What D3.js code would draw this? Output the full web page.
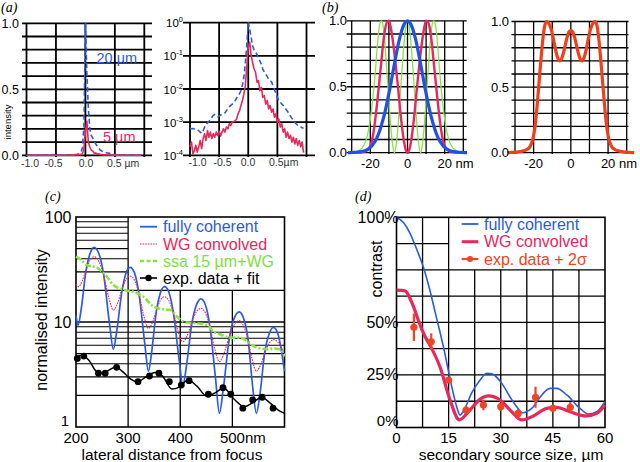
<!DOCTYPE html>
<html>
<head>
<meta charset="utf-8">
<script src="https://cdn.jsdelivr.net/npm/d3@7"></script>
<style>
  body { margin: 0; background: #fff; }
  svg { display: block; font-family: "Liberation Sans", Arial, sans-serif; }
</style>
</head>
<body>
<div id="chart"></div>
<script>
// ---- panel (a): 20 um and 5 um source, same profiles on linear and log axes
const aX = d3.range(79).map(i => -1 + i * 0.025);
const a20 = [6.5e-4, 6.3e-4, 6.4e-4, 6.2e-4, 6.0e-4, 6.0e-4, 5.5e-4, 5.0e-4, 4.6e-4, 5.5e-4,
  7.0e-4, 8.5e-4, 9.5e-4, 1.05e-3, 1.2e-3, 1.4e-3, 1.6e-3, 1.7e-3, 1.6e-3, 1.45e-3,
  1.5e-3, 1.65e-3, 1.7e-3, 1.75e-3, 1.9e-3, 2.2e-3, 2.5e-3, 2.9e-3, 3.2e-3, 3.5e-3,
  3.9e-3, 4.4e-3, 5.3e-3, 6.2e-3, 7.2e-3, 9.0e-3, 0.013, 0.023, 0.06, 0.22,
  1.0, 0.62, 0.36, 0.2, 0.15, 0.13, 0.11, 0.085, 0.07, 0.055,
  0.04, 0.033, 0.028, 0.024, 0.02, 0.018, 0.0165, 0.0125, 0.0095, 0.0075,
  0.0055, 0.0045, 0.004, 0.0035, 0.0032, 0.0028, 0.0024, 0.0021, 0.0018, 0.0015,
  0.0013, 0.0011, 9.8e-4, 8.8e-4, 8.0e-4, 7.5e-4, 7.2e-4, 6.8e-4, 6.6e-4];
const a5 = [1.8e-4, 2.5e-4, 1.1e-4, 1.4e-4, 2.0e-4, 1.25e-4, 1.8e-4, 2.8e-4, 1.6e-4, 3.2e-4,
  4.5e-4, 2.8e-4, 5.6e-4, 3.5e-4, 5.0e-4, 3.2e-4, 4.5e-4, 3.5e-4, 5.0e-4, 4.0e-4,
  5.2e-4, 3.8e-4, 5.0e-4, 6.3e-4, 5.0e-4, 7.1e-4, 6.3e-4, 8.9e-4, 7.9e-4, 1.0e-3,
  1.05e-3, 1.1e-3, 1.25e-3, 1.8e-3, 2.2e-3, 3.2e-3, 4.5e-3, 7.0e-3, 0.0126, 0.05,
  0.18, 0.26, 0.10, 0.063, 0.04, 0.032, 0.016, 0.018, 8.9e-3, 0.0112,
  5.6e-3, 6.3e-3, 3.5e-3, 4.5e-3, 2.5e-3, 3.2e-3, 2.0e-3, 2.5e-3, 1.4e-3, 1.8e-3,
  1.0e-3, 1.25e-3, 7.1e-4, 8.9e-4, 5.0e-4, 6.3e-4, 3.5e-4, 5.0e-4, 3.2e-4, 4.0e-4,
  2.5e-4, 3.5e-4, 2.2e-4, 3.2e-4, 2.0e-4, 2.8e-4, 1.8e-4, 2.5e-4, 1.2e-4];
const aTicks = [-1, -0.5, 0, 0.5, 1];
const aLogTicks = [0, -1, -2, -3, -4];

// ---- panel (b): mode profiles (nm)
const bX = d3.range(-32, 33);
const bBlue = [0.001, 0.001, 0.0015, 0.002, 0.003, 0.004, 0.006, 0.008, 0.011, 0.015, 0.021, 0.029, 0.04, 0.055, 0.074, 0.098,
  0.128, 0.165, 0.21, 0.26, 0.315, 0.38, 0.45, 0.52, 0.6, 0.675, 0.75, 0.82, 0.88, 0.93, 0.968, 0.992,
  1.0,
  0.992, 0.968, 0.93, 0.88, 0.82, 0.75, 0.675, 0.6, 0.52, 0.45, 0.38, 0.315, 0.26, 0.21, 0.165, 0.128,
  0.098, 0.074, 0.055, 0.04, 0.029, 0.021, 0.015, 0.011, 0.008, 0.006, 0.004, 0.003, 0.002, 0.0015, 0.001, 0.001];
const bPink = [0, 0, 0, 0, 0.001, 0.001, 0.002, 0.003, 0.005, 0.008, 0.015, 0.028, 0.052, 0.1, 0.18, 0.29,
  0.42, 0.56, 0.7, 0.84, 0.94, 0.99, 1.0, 0.95, 0.86, 0.75, 0.62, 0.48, 0.33, 0.2, 0.095, 0.025,
  0,
  0.025, 0.095, 0.2, 0.33, 0.48, 0.62, 0.75, 0.86, 0.95, 1.0, 0.99, 0.94, 0.84, 0.7, 0.56, 0.42,
  0.29, 0.18, 0.1, 0.052, 0.028, 0.015, 0.008, 0.005, 0.003, 0.002, 0.001, 0.001, 0, 0, 0, 0];
const bGreen = [0.001, 0.0015, 0.0025, 0.004, 0.007, 0.011, 0.018, 0.028, 0.045, 0.07, 0.11, 0.17, 0.25, 0.37, 0.5, 0.67,
  0.85, 0.97, 1.0, 0.95, 0.8, 0.6, 0.4, 0.2, 0.06, 0.0, 0.07, 0.22, 0.42, 0.62, 0.81, 0.95,
  1.0,
  0.95, 0.81, 0.62, 0.42, 0.22, 0.07, 0.0, 0.06, 0.2, 0.4, 0.6, 0.8, 0.95, 1.0, 0.97, 0.85,
  0.67, 0.5, 0.37, 0.25, 0.17, 0.11, 0.07, 0.045, 0.028, 0.018, 0.011, 0.007, 0.004, 0.0025, 0.0015, 0.001];
const bX2 = d3.range(-34, 35);
const bOrange = [0, 0.001, 0.002, 0.003, 0.004, 0.005, 0.007, 0.009, 0.012, 0.016, 0.022, 0.03, 0.045, 0.075, 0.13, 0.23, 0.38,
  0.55, 0.72, 0.87, 0.97, 1.0, 0.99, 0.96, 0.91, 0.84, 0.77, 0.72, 0.70, 0.715, 0.76, 0.82, 0.88, 0.92,
  0.93,
  0.92, 0.88, 0.82, 0.76, 0.715, 0.70, 0.72, 0.77, 0.84, 0.91, 0.96, 0.99, 1.0, 0.97, 0.87, 0.72, 0.55,
  0.38, 0.23, 0.13, 0.075, 0.045, 0.03, 0.022, 0.016, 0.012, 0.009, 0.007, 0.005, 0.004, 0.003, 0.002, 0.001, 0];

// ---- panel (c): lateral distance (nm) vs normalised intensity
const cBlueX = [200, 204, 210, 219, 226, 234.6, 244, 253, 264, 271.7, 278, 288, 296, 303.8, 312, 321, 332, 339,
  345, 354, 362, 369.8, 378, 387, 398, 405, 412, 422, 431, 439.8, 448, 457, 468, 475, 483, 494, 503, 512.9,
  521, 530, 539, 546, 553, 562, 571, 578.8, 588, 600];
const cBlue = [11.5, 9.3, 13.3, 30.3, 43.4, 51.4, 44.7, 28.4, 9.9, 5.5, 8.1, 19.4, 29.3, 33.2, 29.5, 18.3, 6.2, 3.4,
  5.1, 12.5, 19.0, 21.7, 19.3, 12.1, 4.3, 2.5, 3.85, 9.5, 14.5, 16.6, 14.7, 9.0, 2.8, 1.35, 2.4, 6.9, 10.7, 12.5,
  11.0, 6.9, 2.4, 1.35, 2.07, 5.1, 7.8, 8.9, 7.5, 3.4];
const cPinkX = [200, 205, 212, 219.8, 227, 234.6, 244, 253.2, 263, 271.7, 280, 287.8, 296, 303.8, 312, 321.4, 330, 339,
  347, 354.4, 362, 369.8, 378, 387.4, 396, 405, 414, 422.4, 431, 439.8, 448, 457.4, 466, 475, 484, 493.9, 503, 512.9,
  521, 529.5, 538, 546, 554, 562.4, 571, 578.8, 590, 600];
const cPink = [23, 21.7, 24.7, 31.8, 38.7, 41.9, 37.7, 27.5, 17.0, 13, 15.2, 20.2, 25.4, 27.4, 25.1, 18, 11.5, 8.7,
  10.0, 13, 16.1, 17.4, 16.0, 12, 8.1, 6.5, 7.55, 10, 12.5, 13.5, 12.3, 8.85, 5.6, 4.2, 5.05, 7.25, 9.3, 10.3,
  9.3, 6.85, 4.4, 3.4, 3.9, 5.1, 6.3, 6.8, 6.2, 5.0];
const cGreenX = [200, 210, 220, 240, 259, 272, 291, 310, 329, 349, 368, 381, 392, 406, 420, 432, 451, 464, 477,
  490, 502, 515, 528, 541, 554, 567, 580, 592, 600];
const cGreen = [42, 39, 35, 33, 27, 22.5, 20.2, 19.4, 17.5, 14, 13.2, 13, 11.5, 10.1, 9.8, 9.7, 9.4, 8.1, 7.6,
  7.2, 7.1, 7.1, 6.6, 5.9, 5.6, 5.5, 5.6, 5.5, 4.7];
const cFitX = [200, 212, 225, 240, 252, 264, 276, 290, 305, 318, 332, 352, 366, 384, 398, 415, 432, 451, 466, 483,
  503, 523, 540, 556, 572, 588, 600];
const cFit = [4.6, 4.85, 4.3, 3.35, 3.25, 3.5, 3.72, 3.35, 2.85, 2.68, 2.95, 3.3, 3.05, 2.3, 2.4, 2.8, 2.45, 1.97,
  2.1, 2.35, 1.85, 1.56, 1.72, 1.92, 1.7, 1.45, 1.35];
const cDotX = [202.5, 215, 243, 256, 278, 319, 341, 359, 379, 402, 417, 454, 482, 497, 520, 539, 557, 578];
const cDot = [4.5, 4.74, 3.25, 3.25, 3.7, 2.7, 3.06, 3.25, 2.7, 2.51, 2.76, 2.05, 2.37, 2.05, 1.51, 1.81, 1.92, 1.51];
const cTickX = [200, 300, 400, 500];

// ---- panel (d): secondary source size (um) vs contrast (%)
const dBlueX = [0, 2, 3.9, 6, 7.7, 9.5, 11.1, 13.5, 15.9, 17.3, 18.3, 19.5, 21.6, 24, 26, 27.5, 30.3, 32.5, 34.6,
  36.3, 38, 39.4, 41.3, 44.2, 46.1, 49, 52.8, 55.2, 57.6, 60];
const dBlue = [100, 97.5, 92.4, 84, 76.5, 66, 55, 38.4, 19.4, 10, 5.9, 8.5, 16.3, 22.5, 25.8, 25.5, 21, 15, 9.9,
  7, 8, 9.9, 14.4, 18.6, 18.6, 15.5, 9.1, 6.4, 7.5, 12.3];
const dPinkX = [0, 2.5, 4, 5, 6.5, 8, 10, 12.5, 15.4, 18.1, 20.7, 24, 26.4, 29.8, 32.7, 36, 39.4, 43.2, 46.1,
  49.9, 54.7, 57.6, 60];
const dPink = [65.4, 65, 61, 57, 50, 44, 38, 28.9, 13.1, 3.6, 7.5, 13.4, 15, 13.1, 8.3, 3.6, 5.5, 9.1, 9.6,
  7.5, 5.5, 6.7, 10.7];
const dExpX = [5, 10, 15, 20, 25, 30, 35, 40, 45, 50];
const dExp = [47.7, 40.8, 22.6, 8.3, 10.7, 9.9, 6.7, 14.4, 9.1, 9.6];
const dErr = [6.5, 4, 1.5, 2, 2.5, 2, 2, 5, 1.5, 2.5];
const dTickX = [0, 15, 30, 45, 60];

const BLUE = "#2c5be0", PINK = "#e8285c", GREEN = "#86e545", ORANGE = "#f0401a", RED = "#f04422";

const svg = d3.select("#chart").append("svg")
  .attr("width", 640).attr("height", 462);
svg.append("rect").attr("width", 640).attr("height", 462).attr("fill", "#fff");

function hline(g, y, x1, x2, w, color) {
  return g.append("line").attr("x1", x1).attr("x2", x2).attr("y1", y).attr("y2", y)
    .attr("stroke", color || "#000").attr("stroke-width", w);
}
function vline(g, x, y1, y2, w) {
  return g.append("line").attr("x1", x).attr("x2", x).attr("y1", y1).attr("y2", y2)
    .attr("stroke", "#000").attr("stroke-width", w);
}
function label(g, x, y, txt, size, anchor, fill) {
  return g.append("text").attr("x", x).attr("y", y).attr("font-size", size)
    .attr("text-anchor", anchor || "start").attr("fill", fill || "#000").text(txt);
}
function path(g, xs, ys, x, y, color, width, curve) {
  const line = d3.line()
    .x((d, i) => x(xs[i]))
    .y(d => y(d))
    .curve(curve || d3.curveLinear);
  return g.append("path").datum(ys).attr("d", line).attr("fill", "none")
    .attr("stroke", color).attr("stroke-width", width)
    .attr("stroke-linejoin", "round");
}
function panelTag(x, y, t) {
  svg.append("text").attr("x", x).attr("y", y).attr("font-size", 14)
    .attr("font-family", "Liberation Serif, Times New Roman, serif")
    .attr("font-style", "italic").text(t);
}

// ================= (a) left: linear
{
  const g = svg.append("g");
  const x = d3.scaleLinear([-1, 1], [26.5, 144.3]);
  const y = d3.scaleLinear([0, 1], [155.3, 23.3]);
  d3.range(11).forEach(i => hline(g, y(i / 10), 22, 152, 1.8));
  aTicks.forEach(t => vline(g, x(t), 23.3, 157, 1.8));
  path(g, aX, a20, x, y, BLUE, 1.6).attr("stroke-dasharray", "5,3");
  path(g, aX, a5, x, y, PINK, 1.6);
  [["1.0", 1], ["0.5", 0.5], ["0.0", 0]].forEach(d => label(g, 19, y(d[1]) + 4.5, d[0], 12.5, "end"));
  label(g, 30, 167, "-1.0", 10.5, "middle", "#333");
  label(g, 53.5, 167, "-0.5", 10.5, "middle", "#333");
  label(g, 86, 167, "0.0", 10.5, "middle", "#333");
  label(g, 107, 167, "0.5 µm", 10.5, "start", "#333");
  g.append("text").attr("transform", "translate(10.5,122) rotate(-90)")
    .attr("font-size", 9.5).attr("text-anchor", "middle").text("intensity");
  label(g, 96.5, 63, "20 µm", 14.5, "start", BLUE);
  label(g, 103, 141.5, "5 µm", 14.5, "start", PINK);
}

// ================= (a) right: log
{
  const g = svg.append("g");
  const x = d3.scaleLinear([-1, 1], [190, 306.5]);
  const y = d3.scaleLog([1e-4, 1], [155.3, 22.7]).clamp(true);
  aLogTicks.forEach(e => hline(g, y(Math.pow(10, e)), 183, 315, 1.8));
  aTicks.forEach(t => vline(g, x(t), 22.7, 157, 1.8));
  path(g, aX, a20, x, y, BLUE, 1.6).attr("stroke-dasharray", "5,3");
  path(g, aX, a5, x, y, PINK, 1.6);
  aLogTicks.forEach(e => {
    const t = g.append("text").attr("x", 183).attr("y", y(Math.pow(10, e)) + 4.5)
      .attr("font-size", 11.5).attr("text-anchor", "end");
    t.append("tspan").text("10");
    t.append("tspan").attr("dy", -5).attr("font-size", 7.5).text(e === 0 ? "0" : "-" + (-e));
  });
  label(g, 197.5, 166, "-1.0", 10.5, "middle", "#333");
  label(g, 222.5, 166, "-0.5", 10.5, "middle", "#333");
  label(g, 248, 166, "0.0", 10.5, "middle", "#333");
  label(g, 269, 166, "0.5µm", 10.5, "start", "#333");
}

// ================= (b) left
{
  const g = svg.append("g");
  const x = d3.scaleLinear([-30, 30], [351.7, 463.3]);
  const y = d3.scaleLinear([0, 1], [152.7, 20.8]);
  d3.range(11).forEach(i => hline(g, y(i / 10), 346.7, 466.7, 1.3));
  d3.range(-30, 31, 10).forEach(t => vline(g, x(t), 20.8, 154, 1.3));
  path(g, bX, bGreen, x, y, GREEN, 1.3, d3.curveMonotoneX);
  path(g, bX, bPink, x, y, PINK, 2.4, d3.curveMonotoneX);
  path(g, bX, bBlue, x, y, "#2050e8", 3.2, d3.curveMonotoneX);
  [["1.0", 1], ["0.5", 0.5], ["0.0", 0]].forEach(d => label(g, 347, y(d[1]) + 4.5, d[0], 13, "end"));
  label(g, x(-20), 168, "-20", 13, "middle");
  label(g, x(0), 168, "0", 13, "middle");
  label(g, x(20) - 7.2, 168, "20 nm", 13, "start");
}

// ================= (b) right
{
  const g = svg.append("g");
  const x = d3.scaleLinear([-30, 30], [515, 626.7]);
  const y = d3.scaleLinear([0, 1], [152.7, 21.5]);
  d3.range(11).forEach(i => hline(g, y(i / 10), 511.5, 628.5, 1.3));
  d3.range(-30, 31, 10).forEach(t => vline(g, x(t), 21.5, 154, 1.3));
  path(g, bX2, bOrange, x, y, ORANGE, 3.2, d3.curveMonotoneX);
  [["1.0", 1], ["0.5", 0.5], ["0.0", 0]].forEach(d => label(g, 509, y(d[1]) + 4.5, d[0], 13, "end"));
  label(g, x(-20), 168, "-20", 13, "middle");
  label(g, x(0), 168, "0", 13, "middle");
  label(g, x(20) - 7.2, 168, "20 nm", 13, "start");
}
panelTag(1, 12, "(a)");
panelTag(322, 12, "(b)");

// ================= (c)
{
  const g = svg.append("g");
  const x = d3.scaleLinear([200, 600], [76, 284.5]);
  const y = d3.scaleLog([1, 100], [427, 217]);
  [2, 3, 4, 5, 6, 7, 8, 9, 20].forEach(v => hline(g, y(v), 76, 284.5, 1.1));
  hline(g, y(10), 76, 284.5, 1.6);
  [30, 40, 50, 60, 70, 80, 90].forEach(v => hline(g, y(v), 76, x(300), 1.1));
  vline(g, x(300), 217, 427, 1.3);
  [400, 500].forEach(t => vline(g, x(t), y(20), 427, 1.3));
  g.append("rect").attr("x", 76).attr("y", 217).attr("width", 208.5).attr("height", 210)
    .attr("fill", "none").attr("stroke", "#000").attr("stroke-width", 1.6);

  path(g, cBlueX, cBlue, x, y, BLUE, 1.7, d3.curveMonotoneX);
  path(g, cPinkX, cPink, x, y, PINK, 1.1, d3.curveMonotoneX).attr("stroke-dasharray", "1.6,1");
  path(g, cGreenX, cGreen, x, y, GREEN, 2.6, d3.curveMonotoneX).attr("stroke-dasharray", "6,2,2,2");
  path(g, cFitX, cFit, x, y, "#000", 1.5, d3.curveMonotoneX);
  g.selectAll("circle.dot").data(cDot).join("circle").attr("class", "dot")
    .attr("cx", (d, i) => x(cDotX[i])).attr("cy", d => y(d)).attr("r", 3.4).attr("fill", "#000");

  // legend
  const ly = [226.7, 244, 261, 278];
  hline(g, ly[0], 140, 157, 1.8, BLUE);
  hline(g, ly[1], 140, 157, 1.1, PINK).attr("stroke-dasharray", "1.6,1");
  hline(g, ly[2], 140, 157, 2.6, GREEN).attr("stroke-dasharray", "4,2.5");
  hline(g, ly[3], 140, 157, 1.6);
  g.append("circle").attr("cx", 148.5).attr("cy", ly[3]).attr("r", 3.2).attr("fill", "#000");
  label(g, 163, ly[0] + 5.5, "fully coherent", 16, "start", BLUE);
  label(g, 163, ly[1] + 5.5, "WG convolved", 16, "start", PINK);
  label(g, 163, ly[2] + 5.5, "ssa 15 µm+WG", 16, "start", "#7ee03c");
  label(g, 163, ly[3] + 5.5, "exp. data + fit", 16, "start");

  label(g, 71.5, y(100) + 5.5, "100", 16, "end");
  label(g, 71.5, y(10) + 5.5, "10", 16, "end");
  label(g, 69, 425.5, "1", 15, "end");
  cTickX.forEach(t => {
    if (t === 500) label(g, x(t) - 12.5, 443, "500nm", 15, "start");
    else label(g, x(t), 443, String(t), 15, "middle");
  });
  label(g, 172, 460, "lateral distance from focus", 15.5, "middle");
  g.append("text").attr("transform", "translate(46.5,320) rotate(-90)")
    .attr("font-size", 16).attr("text-anchor", "middle").text("normalised intensity");
}
panelTag(45, 201, "(c)");

// ================= (d)
{
  const g = svg.append("g");
  const x = d3.scaleLinear([0, 60], [396.5, 605]);
  const y = d3.scaleLinear([0, 100], [427.5, 217.3]);
  [7.5, 15].forEach(t => vline(g, x(t), y(100), y(0), 1.3));
  [22.5, 30, 37.5, 45, 52.5].forEach(t => vline(g, x(t), y(75), y(0), 1.3));
  [12.5, 25, 37.5, 50, 62.5, 75].forEach(v => hline(g, y(v), x(0), x(60), 1.3));
  hline(g, y(87.5), x(0), x(15), 1.3);
  g.append("rect").attr("x", x(0)).attr("y", y(100)).attr("width", x(60) - x(0)).attr("height", y(0) - y(100))
    .attr("fill", "none").attr("stroke", "#000").attr("stroke-width", 1.6);

  path(g, dBlueX, dBlue, x, y, BLUE, 1.6, d3.curveMonotoneX);
  path(g, dPinkX, dPink, x, y, PINK, 3.2, d3.curveMonotoneX);
  dExp.forEach((v, i) => {
    g.append("line").attr("x1", x(dExpX[i])).attr("x2", x(dExpX[i]))
      .attr("y1", y(v - dErr[i])).attr("y2", y(v + dErr[i]))
      .attr("stroke", RED).attr("stroke-width", 2.2);
    g.append("circle").attr("cx", x(dExpX[i])).attr("cy", y(v)).attr("r", 3.6).attr("fill", RED);
  });

  const ly = [224, 241.7, 259];
  hline(g, ly[0], 461.7, 478.3, 1.8, BLUE);
  hline(g, ly[1], 461.7, 478.3, 3, PINK);
  hline(g, ly[2], 461.7, 478.3, 2.2, RED);
  g.append("circle").attr("cx", 470).attr("cy", ly[2]).attr("r", 3).attr("fill", RED);
  label(g, 484, ly[0] + 5.5, "fully coherent", 16, "start", BLUE);
  label(g, 484, ly[1] + 5.5, "WG convolved", 16, "start", PINK);
  label(g, 484, ly[2] + 5.5, "exp. data + 2σ", 16, "start", RED);

  [["100%", 100], ["50%", 50], ["25%", 25]].forEach(d => label(g, 398.5, y(d[1]) + 5.5, d[0], 16, "end"));
  label(g, 398.5, 425.5, "0%", 15, "end");
  dTickX.forEach(t => label(g, x(t), 443, String(t), 15, "middle"));
  label(g, 511, 460, "secondary source size, µm", 15.5, "middle");
  g.append("text").attr("transform", "translate(382,269) rotate(-90)")
    .attr("font-size", 16).attr("text-anchor", "middle").text("contrast");
}
panelTag(355, 201, "(d)");
</script>
</body>
</html>
